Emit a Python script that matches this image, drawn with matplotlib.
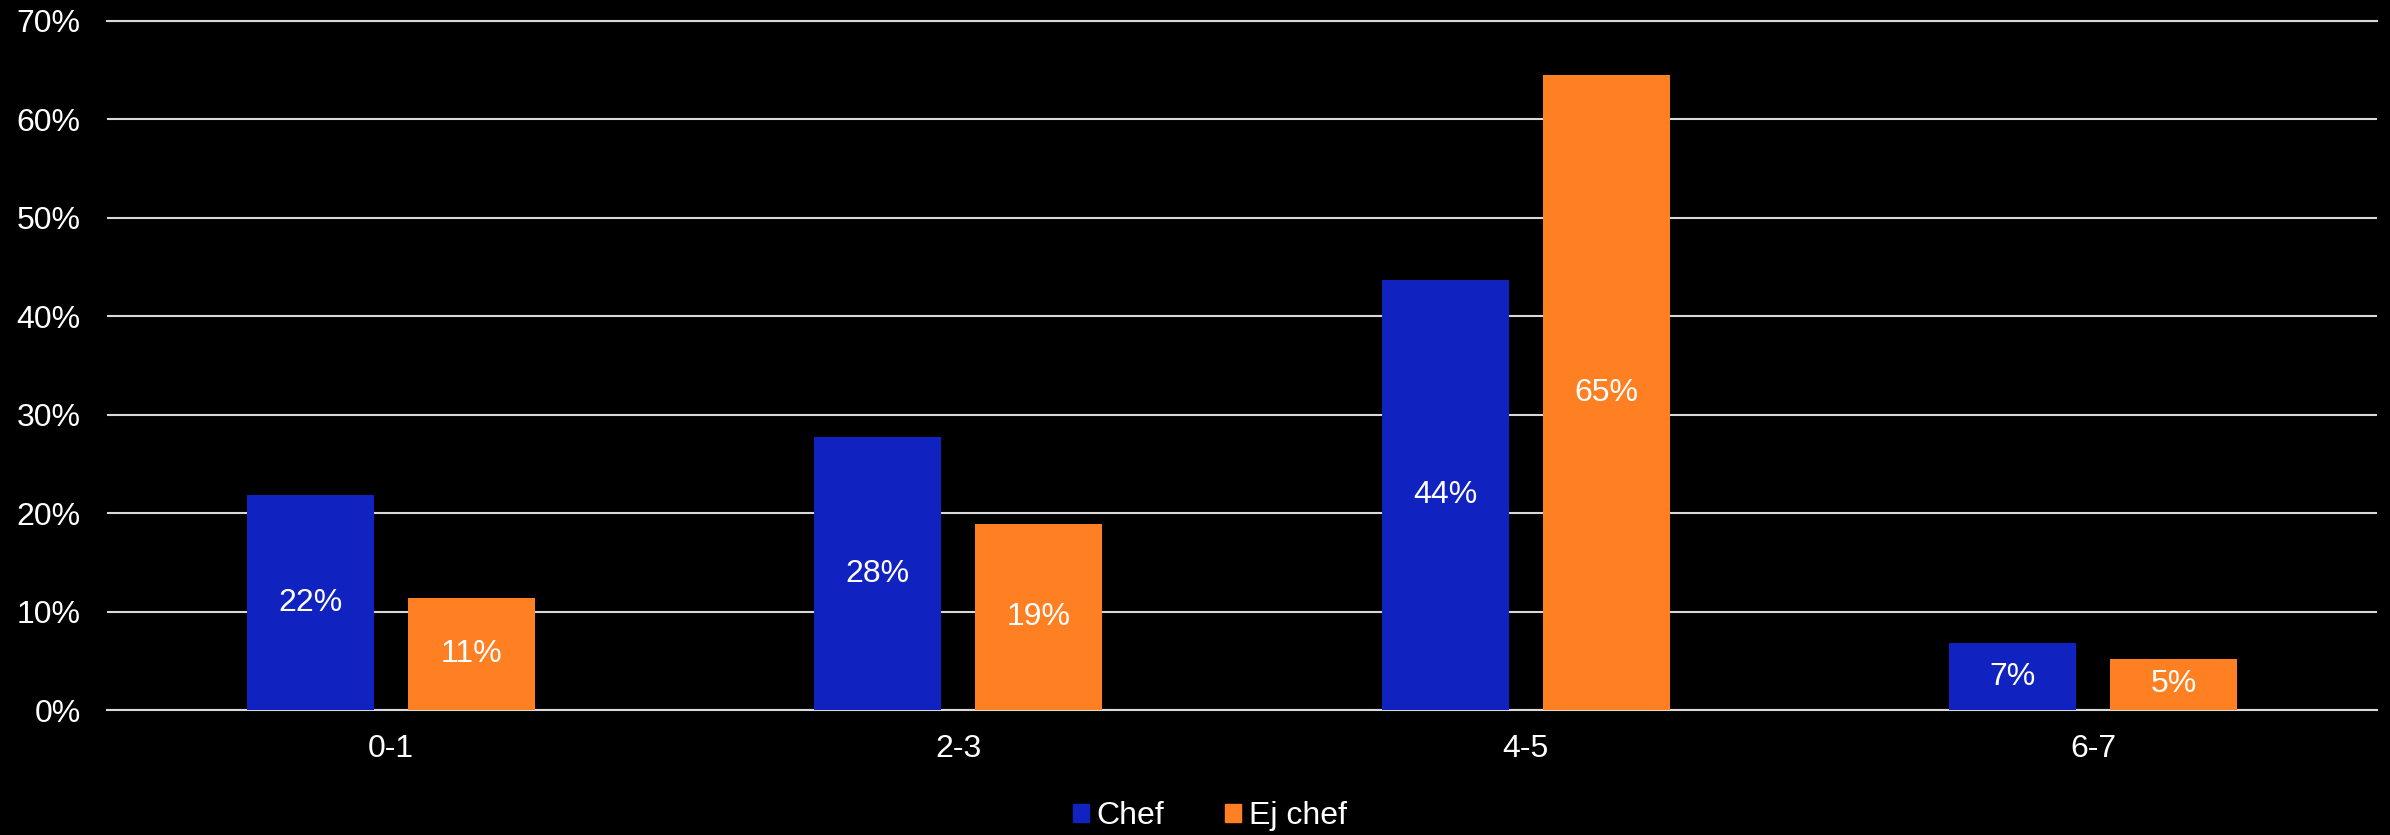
import matplotlib
matplotlib.use("Agg")
import matplotlib.pyplot as plt
import numpy as np
from matplotlib.patches import Patch

plt.rcParams['font.family'] = ['Liberation Sans', 'DejaVu Sans']

# data
categories = ['0-1', '2-3', '4-5', '6-7']
chef = [21.8, 27.7, 43.7, 6.8]
ej_chef = [11.4, 18.9, 64.5, 5.2]
chef_labels = ['22%', '28%', '44%', '7%']
ej_chef_labels = ['11%', '19%', '65%', '5%']

blue = '#1022C0'
orange = '#FF8022'
fs = 23

fig = plt.figure(figsize=(23.9, 8.35), dpi=100, facecolor='black')
ax = fig.add_axes([107/2390, 1 - 710/835, (2377-107)/2390, (710-21)/835])
ax.set_facecolor('black')

x = np.arange(len(categories))
w = 0.224
off = 0.142
b1 = ax.bar(x - off, chef, w, color=blue, zorder=3)
b2 = ax.bar(x + off, ej_chef, w, color=orange, zorder=3)

for bars, labs in [(b1, chef_labels), (b2, ej_chef_labels)]:
    for b, lab in zip(bars, labs):
        ax.text(b.get_x() + b.get_width()/2, b.get_height()/2, lab,
                ha='center', va='center', color='white', fontsize=fs, zorder=4)

ax.set_xlim(-0.5, 3.5)
ax.set_ylim(0, 70)
ax.set_yticks(range(0, 71, 10))
ax.set_yticklabels([f'{v}%' for v in range(0, 71, 10)])
ax.set_xticks(x)
ax.set_xticklabels(categories)
ax.tick_params(axis='both', length=0, colors='white', labelsize=fs)
ax.tick_params(axis='y', pad=19)
ax.tick_params(axis='x', pad=17)
ax.grid(axis='y', color='#d9d9d9', linewidth=1.5, zorder=0)
ax.axhline(0, color='#d9d9d9', linewidth=1.5, zorder=2, clip_on=False)
ax.axhline(70, color='#d9d9d9', linewidth=1.5, zorder=2, clip_on=False)
for s in ax.spines.values():
    s.set_visible(False)

handles = [Patch(color=blue, label='Chef'), Patch(color=orange, label='Ej chef')]
leg = fig.legend(handles=handles, loc='center', bbox_to_anchor=(1210/2390, 1 - 816/835),
                 ncol=2, frameon=False, fontsize=fs, handlelength=0.5, handleheight=0.5,
                 handletextpad=0.25, columnspacing=1.9, labelcolor='white')

fig.savefig('out.png', dpi=100, facecolor='black')
